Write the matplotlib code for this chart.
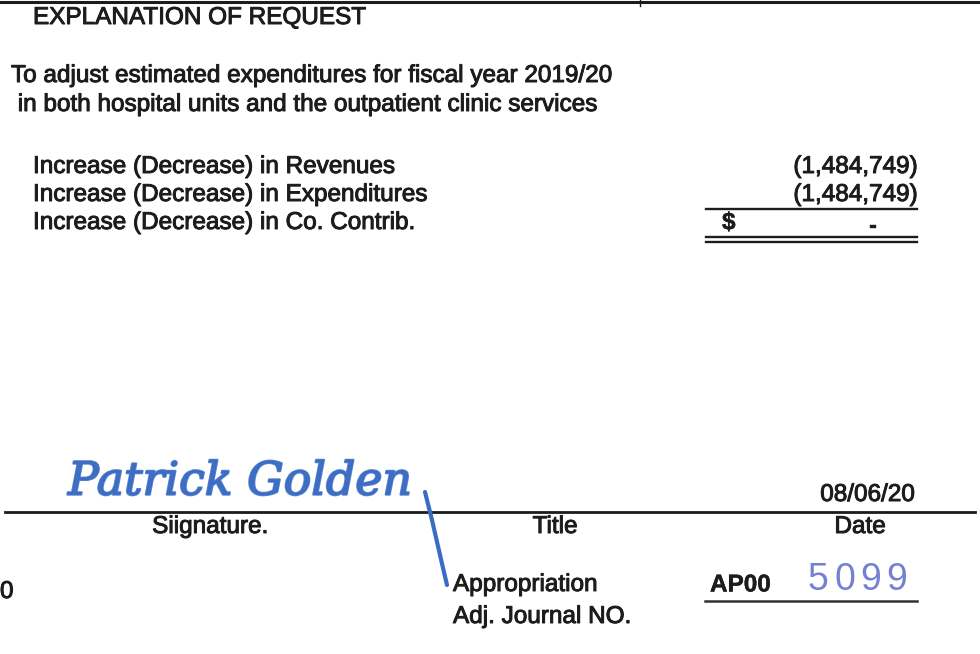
import matplotlib.pyplot as plt
import matplotlib.patheffects as pe

plt.rcParams['font.family'] = ['Liberation Sans', 'DejaVu Sans']

# document content
header = 'EXPLANATION OF REQUEST'
purpose = ['To adjust estimated expenditures for fiscal year 2019/20',
           ' in both hospital units and the outpatient clinic services']
row_labels = ['Increase (Decrease) in Revenues',
              'Increase (Decrease) in Expenditures',
              'Increase (Decrease) in Co. Contrib.']
row_values = ['(1,484,749)', '(1,484,749)', '-']
sign_fields = ['Siignature.', 'Title', 'Date']
date_value = '08/06/20'
journal_label = ['Appropriation', 'Adj. Journal NO.']
journal_prefix = 'AP00'
journal_number = '5099'
signature = 'Patrick Golden'

ink = '#1c1c1c'
blue = '#3a6cc4'

fig = plt.figure(figsize=(9.8, 6.54), dpi=100)
ax = fig.add_axes([0, 0, 1, 1])
ax.set_xlim(0, 980)
ax.set_ylim(654, 0)
ax.axis('off')

fs = 17.5


def put(x, y, s, stroke=0.7, **kw):
    kw.setdefault('fontsize', fs)
    kw.setdefault('va', 'center')
    ax.text(x, y, s, color=ink,
            path_effects=[pe.withStroke(linewidth=stroke, foreground=ink)], **kw)


# top border
ax.plot([0, 980], [2, 2], color=ink, lw=2.2)
ax.plot([640, 640], [0, 6], color=ink, lw=1)

put(33, 18, header)
put(11, 76, purpose[0])
put(11, 105, purpose[1])

row_y = [167, 195, 223]
for y, lab in zip(row_y, row_labels):
    put(33, y, lab)
for y, val in zip(row_y[:2], row_values[:2]):
    put(917, y, val, ha='right')
put(722, row_y[2], '$', stroke=0.3, fontweight='bold')
put(873, row_y[2] + 3, row_values[2], stroke=0.3, ha='center', fontweight='bold')

# totals rules
ax.plot([706, 917], [209, 209], color=ink, lw=1.7)
ax.plot([706, 917], [237, 237], color=ink, lw=1.7)
ax.plot([706, 917], [242, 242], color=ink, lw=1.7)

# signature line
ax.plot([5, 975], [512, 512], color=ink, lw=2)
put(915, 495, date_value, ha='right')
for x, lab in zip([210, 555, 860], sign_fields):
    put(x, 527, lab, ha='center')

# signature (hand drawn)
ax.text(68, 482, signature, fontsize=33, color=blue, va='center', ha='left',
        fontstyle='italic', fontfamily='DejaVu Serif', alpha=0.85,
        path_effects=[pe.withStroke(linewidth=1.5, foreground=blue)])
ax.plot([425, 432, 440, 447], [492, 520, 555, 585], color=blue, lw=3,
        solid_capstyle='round')

put(0, 592, '0')
put(453, 585, journal_label[0])
put(453, 617, journal_label[1])
put(710, 585, journal_prefix, stroke=0.3, fontweight='bold')
for i, ch in enumerate(journal_number):
    ax.text(808 + 26 * i, 580, ch, fontsize=27, color='#7480d0', va='center')
ax.plot([705, 917], [601, 601], color='#333333', lw=1.8)

fig.savefig('out.png', dpi=100, facecolor='white')
